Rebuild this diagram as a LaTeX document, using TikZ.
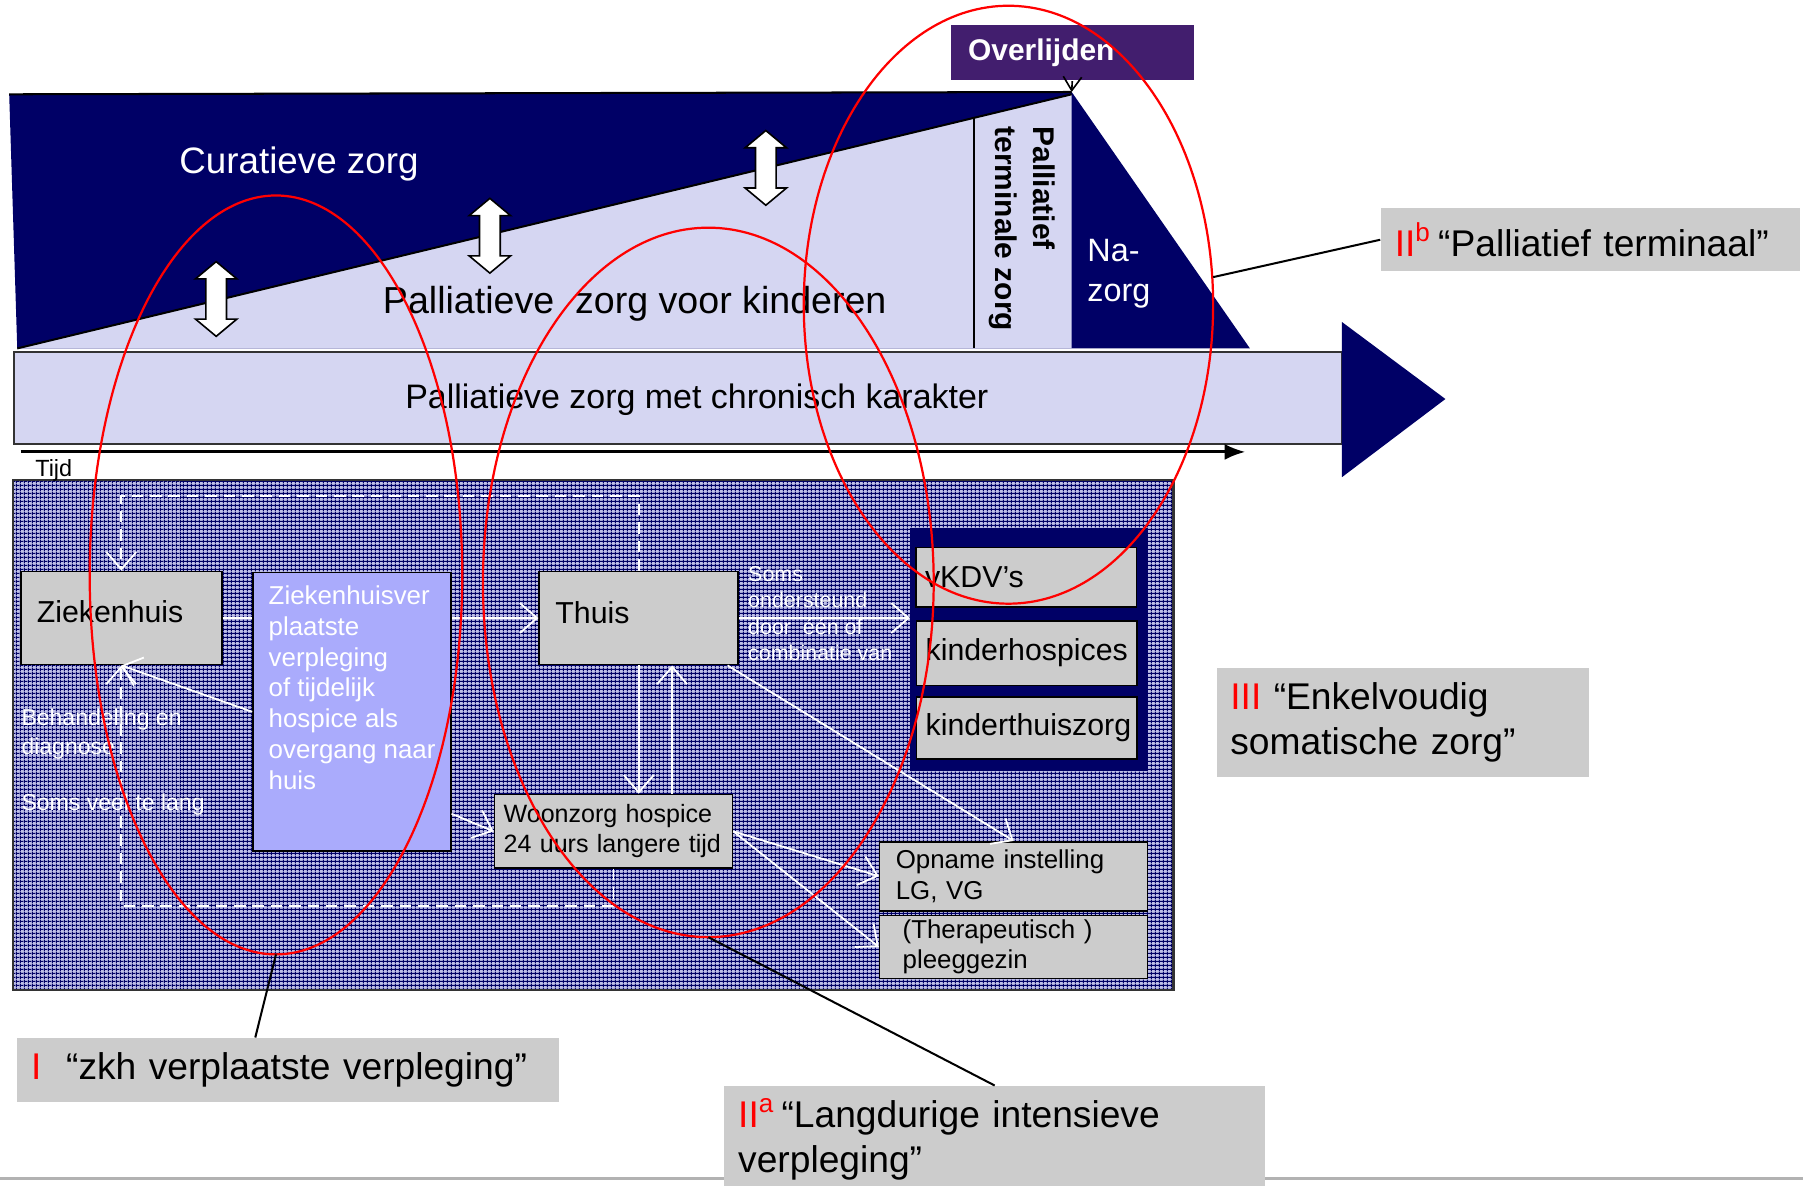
\documentclass[tikz,border=0pt]{standalone}
\usepackage{fontspec}
\setmainfont{Liberation Sans}
\usepackage{tikz}
\usetikzlibrary{positioning,arrows.meta,patterns.meta}

\definecolor{curblue}{RGB}{0,0,102}
\definecolor{palblue}{RGB}{213,214,242}
\definecolor{boxgray}{RGB}{204,204,204}
\definecolor{zvblue}{RGB}{170,171,252}
\definecolor{deathpurple}{RGB}{66,30,110}
\definecolor{gridbase}{RGB}{190,191,232}

\begin{document}
\begin{tikzpicture}[x=1mm,y=-1mm]
		\tikzstyle{box_style} = [rectangle,draw=black,fill=boxgray,align=left,inner xsep=1.4mm,inner ysep=0pt,font=\fontsize{7.5pt}{9pt}\selectfont]
		\tikzstyle{small_box_style} = [box_style,font=\fontsize{6.3pt}{7.4pt}\selectfont]
		\tikzstyle{white_text_style} = [anchor=north west,align=left,text=white,inner sep=0pt]
		\tikzstyle{label_style} = [rectangle,fill=boxgray,align=left,inner xsep=1.2mm,inner ysep=0pt,font=\fontsize{9.2pt}{11.1pt}\selectfont]
		\tikzstyle{flow_style} = [draw=white,line width=0.45pt,-{Straight Barb[length=1.5mm,width=2.6mm]}]
		\tikzstyle{loop_style} = [flow_style,dash pattern=on 1mm off 0.6mm]
		\tikzstyle{ring_style} = [draw=red,line width=0.55pt]
		\tikzstyle{pointer_style} = [draw=black,line width=0.5pt]
		\useasboundingbox (0,0) rectangle (156.8,103.1);
		\draw[black!30,line width=0.9pt] (0,102.5) -- (156.8,102.5);
		\fill[curblue] (0.8,8.2) -- (93.2,8.0) -- (108.7,30.3) -- (1.5,30.3) -- cycle;
		\draw[line width=0.5pt] (0.8,8.2) -- (93.2,8.0);
		\fill[palblue] (1.5,30.3) -- (93.2,8.2) -- (93.2,30.3) -- cycle;
		\draw[line width=0.5pt] (1.5,30.3) -- (93.2,8.2);
		\draw[line width=0.4pt] (84.7,10.25) -- (84.7,30.3);
		\foreach \ax/\ay in {18.8/26.0, 42.6/20.5, 66.6/14.6}
			\draw[fill=white,line width=0.4pt] (\ax,\ay-3.25) -- ++(1.8,1.5) -- ++(-0.9,0) -- ++(0,3.5) -- ++(0.9,0) -- (\ax,\ay+3.25) -- ++(-1.8,-1.5) -- ++(0.9,0) -- ++(0,-3.5) -- ++(-0.9,0) -- cycle;
		\node[text=white,font=\fontsize{9.1pt}{11pt}\selectfont] (curatief) at (26.0,14.3) {Curatieve zorg};
		\node[font=\fontsize{9.3pt}{11pt}\selectfont] (kinderen) at (55.2,26.4) {Palliatieve\ \ zorg voor kinderen};
		\node[rotate=-90,align=left,inner sep=0pt,font=\bfseries\fontsize{7.4pt}{9.4pt}\selectfont] (terminaal) at (88.9,19.9) {Palliatief\\terminale zorg};
		\node[anchor=west,align=left,text=white,inner sep=0pt,font=\fontsize{8pt}{10pt}\selectfont] (nazorg) at (94.5,23.8) {Na-\\zorg};
		\node[fill=deathpurple,text=white,align=left,text width=18.1mm,inner xsep=1.5mm,minimum height=4.4mm,font=\bfseries\fontsize{7.4pt}{9pt}\selectfont] (overlijden) at (93.25,4.6) {Overlijden};
		\coordinate (apex) at (93.2,8.0);
		\draw[line width=0.4pt,-{Straight Barb[length=1.2mm,width=1.6mm]}] (overlijden.south) -- (apex);
		\node[draw=black!80,line width=0.6pt,fill=palblue,minimum width=115.5mm,minimum height=8.0mm,inner sep=0pt] (chronisch) at (58.95,34.6) {};
		\node[font=\fontsize{8.4pt}{10pt}\selectfont] (chronischtekst) at (60.6,34.8) {Palliatieve zorg met chronisch karakter};
		\fill[curblue] (116.7,28.0) -- (125.7,34.7) -- (116.7,41.5) -- cycle;
		\coordinate (t0) at (1.8,39.3);
		\coordinate (t1) at (108.3,39.3);
		\draw[line width=0.7pt,-{Latex[length=1.8mm,width=1.4mm]}] (t0) -- (t1);
		\node[minimum width=100.8mm,minimum height=44.2mm,inner sep=0pt] (rooster) at (51.6,63.9) {};
		\fill[gridbase] (rooster.north west) rectangle (rooster.south east);
		\fill[pattern={Lines[angle=0,distance=0.9pt,line width=0.22pt]},pattern color=curblue] (rooster.north west) rectangle (rooster.south east);
		\fill[pattern={Lines[angle=90,distance=0.9pt,line width=0.22pt]},pattern color=curblue] (rooster.north west) rectangle (rooster.south east);
		\draw[black!80,line width=0.6pt] (rooster.north west) rectangle (rooster.south east);
		\node[anchor=west,inner sep=0pt,font=\fontsize{5.8pt}{7pt}\selectfont] (tijd) at (3.0,40.9) {Tijd};
		\node[box_style,text width=14.7mm,minimum height=8.1mm,text depth=1.2mm] (zkh) at (10.55,53.75) {Ziekenhuis};
		\node[box_style,text width=14.5mm,minimum height=8.1mm,text depth=1.0mm] (thuis) at (55.55,53.75) {Thuis};
		\node[small_box_style,font=\fontsize{6.2pt}{7.4pt}\selectfont,inner xsep=0.8mm,text width=19.1mm,minimum height=6.4mm] (woonzorg) at (53.35,72.3) {Woonzorg~hospice\\24~uurs~langere~tijd};
		\node[small_box_style,font=\fontsize{6.4pt}{7.5pt}\selectfont,text width=20.5mm,minimum height=6.0mm] (opname) at (88.15,76.2) {Opname instelling\\LG, VG};
		\node[small_box_style,font=\fontsize{6.4pt}{7.5pt}\selectfont,inner xsep=2.0mm,text width=19.3mm,minimum height=5.5mm] (pleeggezin) at (88.15,82.35) {(Therapeutisch )\\pleeggezin};
		\node[fill=curblue,draw=curblue,minimum width=20.6mm,minimum height=21.0mm,inner sep=0pt] (zorgblok) at (89.5,56.5) {};
		\node[box_style,inner xsep=0.8mm,text width=17.6mm,minimum height=5.2mm,font=\fontsize{7.5pt}{9pt}\selectfont] (kdv) at (89.25,50.2) {vKDV’s};
		\node[box_style,inner xsep=0.8mm,text width=17.6mm,minimum height=5.6mm,font=\fontsize{7.5pt}{9pt}\selectfont] (hospices) at (89.3,56.8) {kinderhospices};
		\node[box_style,inner xsep=0.8mm,text width=17.6mm,minimum height=5.4mm,font=\fontsize{7.5pt}{9pt}\selectfont] (thuiszorg) at (89.3,63.3) {kinderthuiszorg};
		\node[white_text_style,font=\fontsize{5.3pt}{6.5pt}\selectfont] (soms) at (65.0,49.2) {Soms\\ondersteund\\door \ één of\\combinatie van};
		\node[white_text_style,font=\fontsize{5.7pt}{7.1pt}\selectfont] (behandeling) at (1.8,61.6) {Behandeling en\\diagnose};
		\node[white_text_style,font=\fontsize{5.7pt}{7.1pt}\selectfont] (somslang) at (1.8,69.0) {Soms veel te lang};
		\draw[flow_style] (zkh.east) -- (thuis.west);
		\draw[loop_style] (thuis.north) -- ++(0,-6.5) -| (zkh.north);
		\draw[loop_style] (woonzorg.south) -- ++(0,3.2) -| (zkh.south);
		\node[draw=black,fill=zvblue,minimum width=17.2mm,minimum height=24.2mm,inner sep=0pt] (zv) at (30.6,61.9) {};
		\node[white_text_style,font=\fontsize{6.4pt}{7.6pt}\selectfont] (zvtekst) at (23.3,50.9) {Ziekenhuisver\\plaatste\\verpleging\\of tijdelijk\\hospice als\\overgang naar\\huis};
		\draw[flow_style] (zv.west) -- (zkh.south);
		\draw[flow_style] ([yshift=3.3mm]zv.south east) -- (woonzorg.west);
		\draw[flow_style] (thuis.south) -- (thuis.south |- woonzorg.north);
		\draw[flow_style] ([xshift=2.9mm]thuis.south |- woonzorg.north) -- ([xshift=2.9mm]thuis.south);
		\draw[flow_style] (thuis.east) -- (thuis.east -| zorgblok.west);
		\draw[flow_style] ([xshift=-1mm]thuis.south east) -- (opname.north);
		\draw[flow_style] (woonzorg.east) -- (opname.west);
		\draw[flow_style] (woonzorg.east) -- (pleeggezin.west);
		\draw[ring_style] (24.0,50.0) ellipse (16.2mm and 33.0mm);
		\draw[ring_style] (61.6,50.65) ellipse (19.6mm and 30.85mm);
		\draw[ring_style] (87.7,26.5) ellipse (17.8mm and 26.0mm);
		\coordinate (ringI) at (24.0,83.0);
		\coordinate (ringIIa) at (61.6,81.5);
		\coordinate (ringIIb) at (105.5,24.1);
		\node[label_style,text width=44.7mm,minimum height=5.5mm] (labelI) at (25.05,93.05) {{\color{red}I}\ \ “zkh verplaatste verpleging”};
		\node[label_style,text width=44.6mm,minimum height=9.2mm,anchor=north] (labelIIa) at (86.5,94.4) {{\color{red}II\textsuperscript{a}}\,“Langdurige intensieve\\verpleging”};
		\node[label_style,text width=34.0mm,minimum height=5.5mm] (labelIIb) at (138.3,20.85) {{\color{red}II\textsuperscript{b}}\,“Palliatief terminaal”};
		\node[label_style,text width=30.0mm,minimum height=9.5mm] (labelIII) at (122.0,62.85) {{\color{red}III}\ “Enkelvoudig\\somatische zorg”};
		\draw[pointer_style] (ringI) -- ([xshift=-2.85mm]labelI.north);
		\draw[pointer_style] (ringIIa) -- (labelIIa.north);
		\draw[pointer_style] (ringIIb) -- (labelIIb.west);
\end{tikzpicture}
\end{document}
